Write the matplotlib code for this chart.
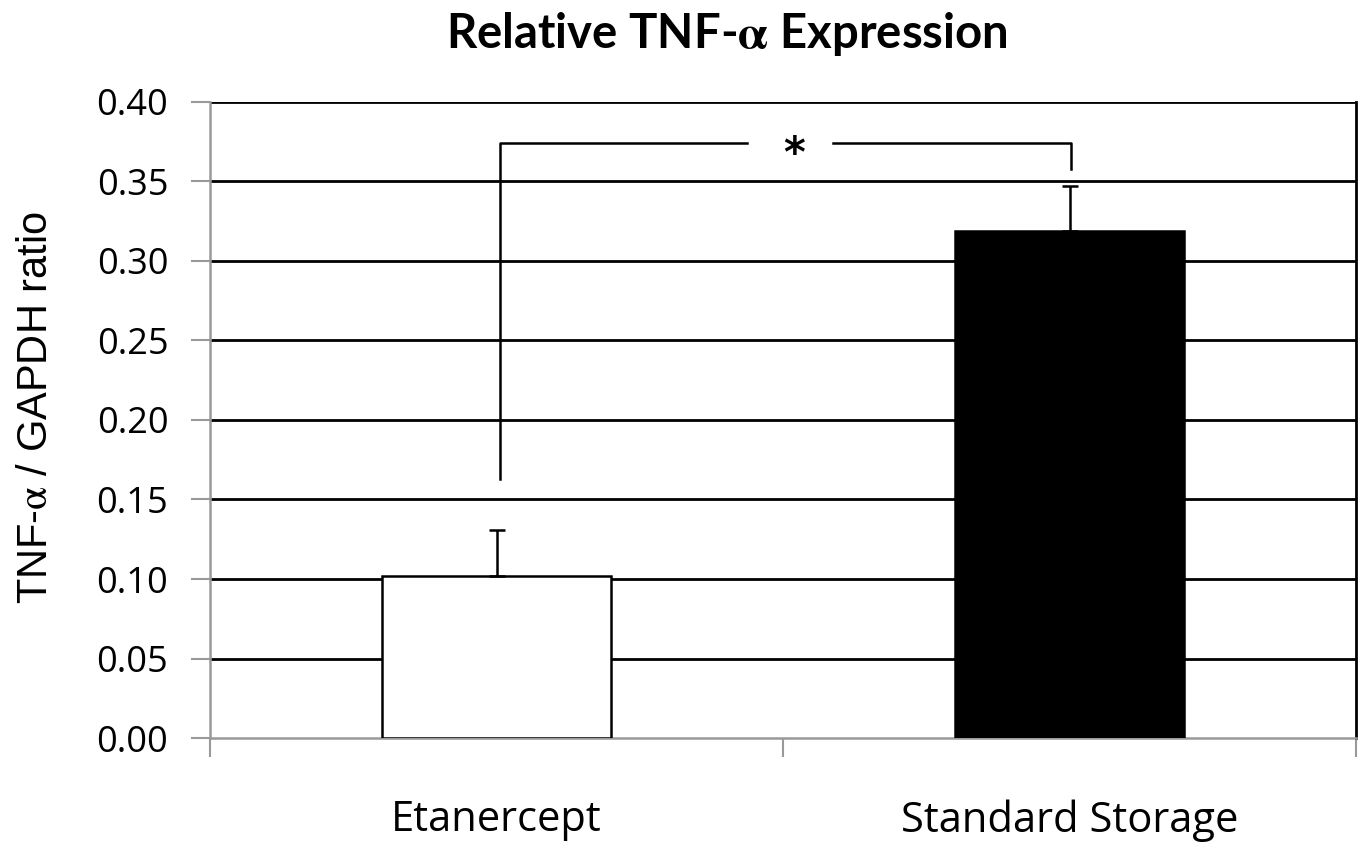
import matplotlib
matplotlib.use('Agg')
import matplotlib.pyplot as plt
import numpy as np

# Data
groups = ['Etanercept', 'Standard Storage']
ratio = [0.102, 0.319]
err_up = [0.029, 0.028]
bar_colors = ['white', 'black']
y_ticks = [0.00, 0.05, 0.10, 0.15, 0.20, 0.25, 0.30, 0.35, 0.40]

# significance bracket (left leg bottom, top, right leg bottom)
sig_left, sig_top, sig_right = 0.163, 0.374, 0.358

plt.rcParams['mathtext.fontset'] = 'stix'
grey = '#999999'

fig = plt.figure(figsize=(13.63, 8.42), dpi=100)
ax = fig.add_axes([0.1541, 0.1235, 0.8408, 0.7554])

x = np.arange(len(groups))
ax.bar(x, ratio, width=0.40, color=bar_colors, edgecolor='black', linewidth=1.8, zorder=3)
ax.errorbar(x, ratio, yerr=[[0, 0], err_up], fmt='none', ecolor='black',
            elinewidth=1.8, capsize=6, capthick=1.8, zorder=4)

ax.set_xlim(-0.5, 1.5)
ax.set_ylim(0, 0.40)
ax.set_yticks(y_ticks)
ax.set_yticklabels([f'{v:.2f}' for v in y_ticks], family=['Open Sans', 'DejaVu Sans'], fontsize=26)
ax.set_xticks(x)
ax.set_xticklabels(groups, family=['Open Sans', 'DejaVu Sans'], fontsize=30)
ax.tick_params(axis='x', which='major', length=0, pad=44)
ax.set_xticks([-0.5, 0.5, 1.5], minor=True)
ax.tick_params(axis='x', which='minor', length=14, width=1.5, color=grey, direction='out')
ax.tick_params(axis='y', length=14, width=1.5, color=grey, direction='out', pad=16)

# gridlines
for v in y_ticks[1:]:
    ax.axhline(v, color='black', linewidth=2, zorder=1)

for side in ['left', 'bottom']:
    ax.spines[side].set_color(grey)
    ax.spines[side].set_linewidth(1.8)
ax.spines['top'].set_visible(False)
ax.spines['right'].set_color('black')
ax.spines['right'].set_linewidth(2)

# bracket with asterisk
xl, xr = 0.006, 1.003
ax.plot([xl, xl, 0.437], [sig_left, sig_top, sig_top], color='black', lw=1.8, zorder=5)
ax.plot([0.587, xr, xr], [sig_top, sig_top, sig_right], color='black', lw=1.8, zorder=5)
ax.annotate('*', xy=(0.520, sig_top), xytext=(0, -12), textcoords='offset pixels',
            ha='center', va='center', fontsize=30, fontweight='bold',
            family=['DejaVu Sans'], zorder=5)

ax.set_ylabel(r'TNF-$\mathrm{\alpha}$ / GAPDH ratio', family=['Liberation Sans', 'DejaVu Sans'],
              fontsize=30)
ax.yaxis.set_label_coords(-0.134, 0.52)
fig.text(0.533, 0.960, r'Relative TNF-$\mathbf{\alpha}$ Expression', family=['Lato', 'DejaVu Sans'],
         fontweight='bold', fontsize=34, ha='center', va='center')

plt.savefig('out.png', dpi=100)
plt.close()
